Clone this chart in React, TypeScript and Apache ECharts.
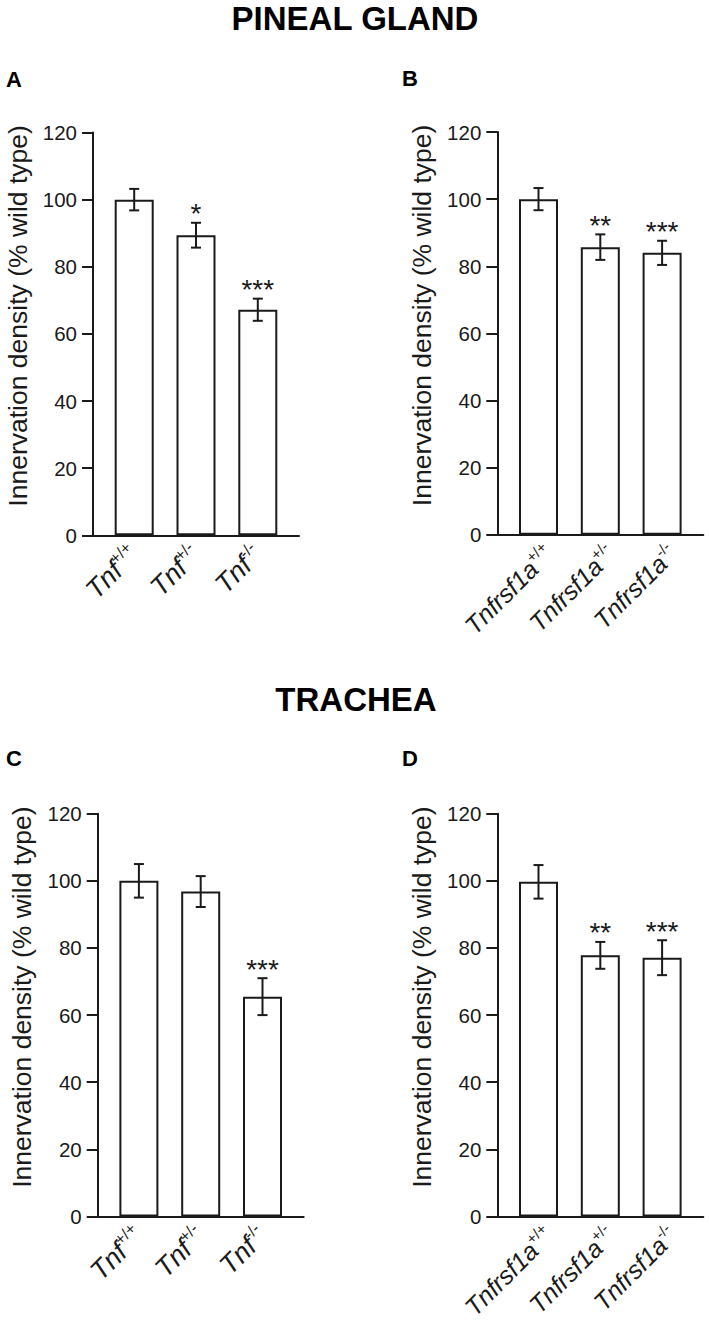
import React, { useEffect, useRef } from "react";
import * as echarts from "echarts";

const positions = [1, 2, 3];
const tnfCategories = ["+/+", "+/-", "-/-"];
const tnfrCategories = ["+/+", "+/-", "-/-"];

const pinealTnfMeans = [100, 89.4, 67.2];
const pinealTnfErrors = [3.2, 3.7, 3.3];
const pinealTnfStars = ["", "*", "***"];

const pinealTnfrMeans = [100, 85.7, 84.0];
const pinealTnfrErrors = [3.3, 3.8, 3.6];
const pinealTnfrStars = ["", "**", "***"];

const tracheaTnfMeans = [100, 96.8, 65.5];
const tracheaTnfErrors = [5.0, 4.6, 5.5];
const tracheaTnfStars = ["", "", "***"];

const tracheaTnfrMeans = [99.7, 77.8, 77.1];
const tracheaTnfrErrors = [5.0, 4.0, 5.2];
const tracheaTnfrStars = ["", "**", "***"];

const FONT = "'Liberation Sans', Arial, Helvetica, sans-serif";
const INK = "#1a1a1a";

type Panel = {
  left: number;
  top: number;
  gene: string;
  cats: string[];
  means: number[];
  errors: number[];
  stars: string[];
  label: { margin: number; vAlign: string; size: number; supSize: number };
};

const shortLabel = { margin: 15, vAlign: "middle", size: 27, supSize: 16 };
const longLabel = { margin: 4, vAlign: "top", size: 25, supSize: 15 };

const panels: Panel[] = [
  { left: 93, top: 132.5, gene: "Tnf", cats: tnfCategories, means: pinealTnfMeans, errors: pinealTnfErrors, stars: pinealTnfStars, label: shortLabel },
  { left: 497.3, top: 132, gene: "Tnfrsf1a", cats: tnfrCategories, means: pinealTnfrMeans, errors: pinealTnfrErrors, stars: pinealTnfrStars, label: longLabel },
  { left: 97.7, top: 813.7, gene: "Tnf", cats: tnfCategories, means: tracheaTnfMeans, errors: tracheaTnfErrors, stars: tracheaTnfStars, label: shortLabel },
  { left: 497.3, top: 813.7, gene: "Tnfrsf1a", cats: tnfrCategories, means: tracheaTnfrMeans, errors: tracheaTnfrErrors, stars: tracheaTnfrStars, label: longLabel },
];

export default function App() {
  const ref = useRef<HTMLDivElement>(null);

  useEffect(() => {
    document.body.style.margin = "0";
    if (!ref.current) return;
    const chart = echarts.init(ref.current, undefined, { renderer: "svg" });

    const grids: any[] = [];
    const xAxes: any[] = [];
    const yAxes: any[] = [];
    const series: any[] = [];

    panels.forEach((p, i) => {
      grids.push({
        left: p.left,
        top: p.top,
        width: 206,
        height: 402.8,
        containLabel: false,
        outerBoundsMode: "none",
      });
      xAxes.push({
        type: "value",
        gridIndex: i,
        min: 1 / 3,
        max: 11 / 3,
        splitLine: { show: false },
        axisTick: { show: false },
        axisLine: { show: true, onZero: false, lineStyle: { color: INK, width: 2 } },
        axisLabel: {
          customValues: positions,
          rotate: 45,
          margin: p.label.margin,
          align: "right",
          verticalAlign: p.label.vAlign,
          formatter: (v: number) => {
            const idx = Math.round(v) - 1;
            const c = p.cats[idx] ?? "";
            return `{g|${p.gene}}{s|${c}}`;
          },
          rich: {
            g: { fontFamily: FONT, fontSize: p.label.size, fontStyle: "italic", color: INK },
            s: { fontFamily: FONT, fontSize: p.label.supSize, color: INK, padding: [0, 0, p.label.supSize, 0] },
          },
        },
      });
      yAxes.push({
        type: "value",
        gridIndex: i,
        min: 0,
        max: 120,
        interval: 20,
        name: "Innervation density (% wild type)",
        nameLocation: "middle",
        nameGap: 62,
        nameTextStyle: { fontFamily: FONT, fontSize: 26.5, color: INK, padding: [0, 0, 0, 36] },
        splitLine: { show: false },
        axisLine: { show: true, onZero: false, lineStyle: { color: INK, width: 2 } },
        axisTick: { show: true, inside: false, length: 11, lineStyle: { color: INK, width: 2 } },
        axisLabel: {
          fontFamily: FONT,
          fontSize: 20.5,
          color: INK,
          margin: 16,
        },
      });
      series.push({
        type: "bar",
        xAxisIndex: i,
        yAxisIndex: i,
        barWidth: 39,
        data: positions.map((x, k) => [x, p.means[k]]),
        itemStyle: { color: "#ffffff", borderColor: INK, borderWidth: 2 },
        z: 2,
      });
      series.push({
        type: "custom",
        xAxisIndex: i,
        yAxisIndex: i,
        z: 3,
        encode: { x: 0, y: [1, 2] },
        data: positions.map((x, k) => [x, p.means[k] - p.errors[k], p.means[k] + p.errors[k]]),
        renderItem: (params: any, api: any) => {
          const x = api.value(0);
          const lo = api.coord([x, api.value(1)]);
          const hi = api.coord([x, api.value(2)]);
          const hw = 5;
          const st = { stroke: INK, lineWidth: 2 };
          const children: any[] = [
            { type: "line", shape: { x1: lo[0], y1: lo[1], x2: hi[0], y2: hi[1] }, style: st },
            { type: "line", shape: { x1: hi[0] - hw, y1: hi[1], x2: hi[0] + hw, y2: hi[1] }, style: st },
            { type: "line", shape: { x1: lo[0] - hw, y1: lo[1], x2: lo[0] + hw, y2: lo[1] }, style: st },
          ];
          const s = p.stars[params.dataIndex];
          if (s) {
            children.push({
              type: "text",
              x: hi[0],
              y: hi[1] - 9,
              style: {
                text: s,
                fill: INK,
                font: `28px ${FONT}`,
                align: "center",
                verticalAlign: "middle",
              },
            });
          }
          return { type: "group", children };
        },
      });
    });

    const titleText = (text: string, x: number, y: number, size: number) => ({
      type: "text",
      x,
      y,
      style: {
        text,
        fill: "#000",
        font: `bold ${size}px ${FONT}`,
        align: "center",
        verticalAlign: "middle",
      },
    });

    chart.setOption({
      animation: false,
      backgroundColor: "#ffffff",
      grid: grids,
      xAxis: xAxes,
      yAxis: yAxes,
      series,
      graphic: [
        titleText("PINEAL GLAND", 355, 18.5, 33),
        titleText("TRACHEA", 356, 699, 33),
        titleText("A", 14, 79, 22),
        titleText("B", 410, 78, 22),
        titleText("C", 14, 758, 22),
        titleText("D", 410, 758, 22),
      ],
    });

    return () => chart.dispose();
  }, []);

  return <div ref={ref} style={{ width: 709, height: 1325 }} />;
}
